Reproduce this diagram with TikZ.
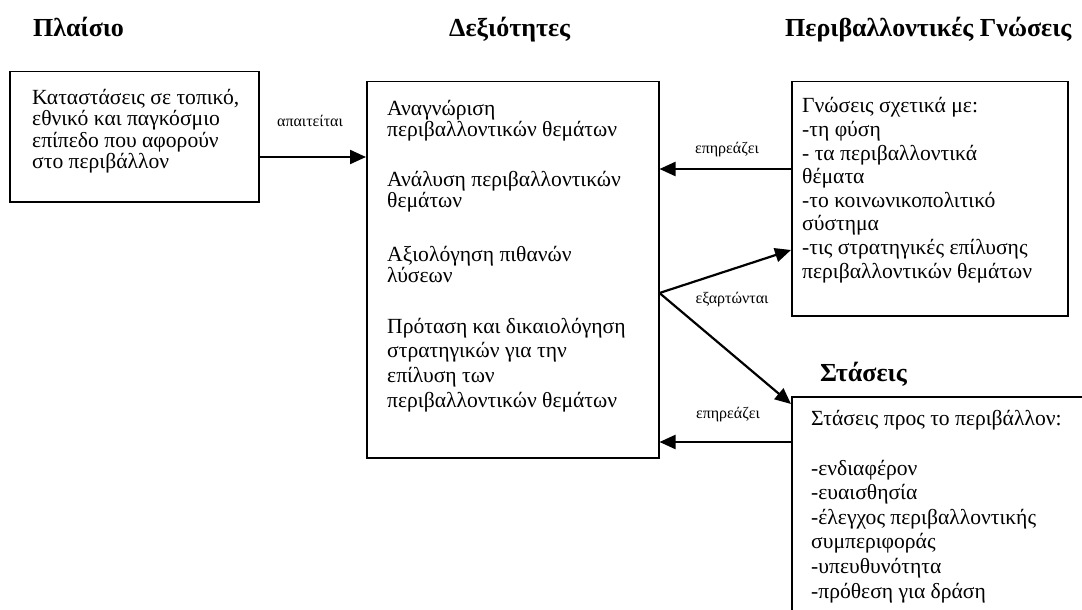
\documentclass[tikz,border=0pt]{standalone}
\usepackage{fontspec}
\setmainfont{Liberation Serif}
\usetikzlibrary{arrows.meta}
\newcommand{\mylines}[2]{\parbox[t]{300pt}{\raggedright\fontsize{21.6}{#1}\selectfont #2}}
\begin{document}
\begin{tikzpicture}[x=1pt,y=-1pt,
  box/.style={draw, line width=1.5pt, rectangle, inner sep=0pt, anchor=north west},
  txt/.style={anchor=base west, inner sep=0pt},
  head/.style={anchor=base west, inner sep=0pt, font=\fontsize{26}{30}\selectfont\bfseries},
  lbl/.style={inner sep=0pt, font=\fontsize{16}{18}\selectfont},
  arr/.style={line width=2.2pt, -{Triangle[length=16pt,width=14pt]}}]
\useasboundingbox (0,0) rectangle (1082,610);
\clip (0,0) rectangle (1082,610);

% headers
\node[head] (hctx) at (33,37) {Πλαίσιο};
\node[head] (hmid) at (449,37) {Δεξιότητες};
\node[head] (hknow) at (785,37) {Περιβαλλοντικές Γνώσεις};
\node[head] (hatt) at (820,381) {Στάσεις};

% boxes
\node[box, minimum width=249pt, minimum height=130pt] (ctx) at (9,71) {};
\node[box, minimum width=292pt, minimum height=376pt] (mid) at (366,81) {};
\node[box, minimum width=276pt, minimum height=234pt] (know) at (791,81) {};
\node[box, minimum width=320pt, minimum height=260pt] (att) at (791,396) {};

% box texts
\node[txt] (tctx) at (32,104) {\mylines{21.6pt}{Καταστάσεις σε τοπικό,\\ εθνικό και παγκόσμιο\\ επίπεδο που αφορούν\\ στο περιβάλλον}};
\node[txt] (tmid1) at (387,115) {\mylines{21pt}{Αναγνώριση\\ περιβαλλοντικών θεμάτων}};
\node[txt] (tmid2) at (387,186) {\mylines{21pt}{Ανάλυση περιβαλλοντικών\\ θεμάτων}};
\node[txt] (tmid3) at (387,261) {\mylines{21pt}{Αξιολόγηση πιθανών\\ λύσεων}};
\node[txt] (tmid4) at (387,333) {\mylines{24.7pt}{Πρόταση και δικαιολόγηση\\ στρατηγικών για την\\ επίλυση των\\ περιβαλλοντικών θεμάτων}};
\node[txt] (tknow) at (802,113) {\mylines{23.6pt}{Γνώσεις σχετικά με:\\ -τη φύση\\ - τα περιβαλλοντικά\\ θέματα\\ -το κοινωνικοπολιτικό\\ σύστημα\\ -τις στρατηγικές επίλυσης\\ περιβαλλοντικών θεμάτων}};
\node[txt] (tatt1) at (811,425) {\mylines{24.6pt}{Στάσεις προς το περιβάλλον:}};
\node[txt] (tatt2) at (811,475) {\mylines{24.6pt}{-ενδιαφέρον\\ -ευαισθησία\\ -έλεγχος περιβαλλοντικής\\ συμπεριφοράς\\ -υπευθυνότητα\\ -πρόθεση για δράση}};

% connector anchor points
\coordinate (p1) at ([yshift=-86pt]ctx.north east);
\coordinate (p2) at ([yshift=-88pt]know.north west);
\coordinate (p3) at ([yshift=-212pt]mid.north east);
\coordinate (p4) at ([yshift=-169pt]know.north west);
\coordinate (p6) at ([yshift=-8pt]att.north west);
\coordinate (p5) at ([yshift=-46pt]att.north west);

% connectors
\draw[arr] (p1) -- (p1 -| mid.west);
\draw[arr] (p2) -- (p2 -| mid.east);
\draw[arr] (p3) -- (p4);
\draw[arr] (p3) -- (p6);
\draw[arr] (p5) -- (p5 -| mid.east);

% labels
\node[lbl] (l1) at (310,121) {απαιτείται};
\node[lbl] (l2) at (727,150) {επηρεάζει};
\node[lbl] (l3) at (732,300) {εξαρτώνται};
\node[lbl] (l4) at (728,415) {επηρεάζει};
\end{tikzpicture}
\end{document}
